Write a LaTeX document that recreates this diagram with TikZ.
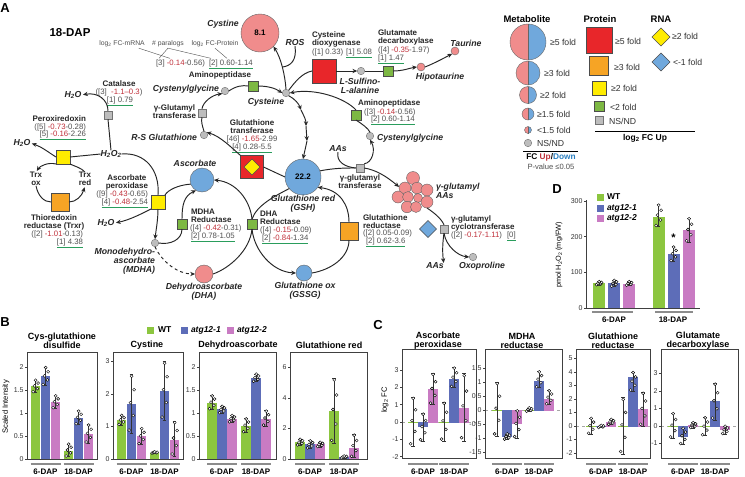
\documentclass[tikz,border=0pt]{standalone}
\usepackage{fontspec}
\setmainfont{Liberation Sans}
\usetikzlibrary{arrows.meta,shapes.geometric}
\definecolor{mpink}{HTML}{F08C8C}
\definecolor{mblue}{HTML}{70A8DC}
\definecolor{pred}{HTML}{E8262A}
\definecolor{porange}{HTML}{F6A425}
\definecolor{pyellow}{HTML}{FFEC00}
\definecolor{pgreen}{HTML}{7DB843}
\definecolor{pgray}{HTML}{BDBDBD}
\definecolor{vred}{HTML}{C0303A}
\definecolor{dblue}{HTML}{2A7FC1}
\definecolor{vgray}{HTML}{505050}
\definecolor{ulgreen}{HTML}{2A9D5C}
\definecolor{cwt}{HTML}{8CC63F}
\definecolor{ca}{HTML}{5D6DB8}
\definecolor{cb}{HTML}{C97BC3}
\newcommand{\rd}[1]{\textcolor{vred}{#1}}
\newcommand{\ulnode}[1]{\draw[ul] ([yshift=-1.8pt]#1.south west) -- ([yshift=-1.8pt]#1.south east);}
\newcommand{\halfc}[3]{%
 \fill[mpink] (#1,#2) -- ++(90:#3pt) arc[start angle=90,end angle=270,radius=#3pt] -- cycle;
 \fill[mblue] (#1,#2) -- ++(-90:#3pt) arc[start angle=-90,end angle=90,radius=#3pt] -- cycle;
 \draw[line width=0.4pt,black!60] (#1,#2) circle[radius=#3pt];
 \draw[line width=0.4pt,black!60] (#1,{#2-#3}) -- (#1,{#2+#3});}
\def\bhw{4.6}
\newcommand{\mybar}[5]{%
 \fill[#5] ({#1-\bhw},0) rectangle ({#1+\bhw},#2);
 \draw[#5,line width=0.7pt] ({#1-\bhw},0) -- ({#1+\bhw},0);
 \draw[errb] (#1,#3) -- (#1,#4) ({#1-1.8},#3) -- ({#1+1.8},#3) ({#1-1.8},#4) -- ({#1+1.8},#4);
 \foreach \jx/\jf in {-2.4/0.05,1.9/0.3,-1.0/0.52,2.6/0.74,0.2/0.97}{\node[dotc] at ({#1+\jx},{(#3)+\jf*((#4)-(#3))}) {};}}
\newcommand{\yticks}[1]{\foreach \v in {#1}{\draw[line width=0.5pt,black!75] (0,\v) -- (-2.2,\v); \node[tickl,anchor=east] at (-3.5,\v) {\v};}}
\newcommand{\grps}[4]{% X0, c1, c2, y
 \begin{scope}[shift={(#1,0)}]
  \draw[grpl] ({#2-15},#4) -- ({#2+15},#4);
  \draw[grpl] ({#3-15},#4) -- ({#3+15},#4);
  \node[grpt] at (#2,{#4+7.5}) {6-DAP};
  \node[grpt] at (#3,{#4+7.5}) {18-DAP};
 \end{scope}}
\begin{document}
\begin{tikzpicture}[x=1pt,y=-1pt,
 every node/.style={inner sep=0pt,outer sep=0pt},
 lab/.style={font=\fontsize{8}{8}\selectfont\bfseries, align=center, text=black!85},
 val/.style={font=\fontsize{7.8}{8}\selectfont, text=vgray},
 met/.style={font=\fontsize{8.7}{8.8}\selectfont\bfseries\itshape, align=center, text=black!85},
 gc/.style={circle, draw=black!55, fill=pgray, minimum size=7.5pt, line width=0.4pt},
 gsq/.style={rectangle, draw=black!55, fill=pgray, minimum size=8.5pt, line width=0.4pt},
 psq/.style={rectangle, draw=black!70, line width=0.4pt},
 mc/.style={circle, draw=black!60, line width=0.4pt},
 ln/.style={line width=0.95pt, black!85},
 arr/.style={line width=0.95pt, black!85, -{Stealth[length=4.8pt,width=4.3pt]}},
 totxt/.style={shorten >=1.5pt},
 ul/.style={draw=ulgreen, line width=0.9pt},
 leg/.style={font=\fontsize{8.7}{8}\selectfont, text=black!80},
 legt/.style={font=\fontsize{9.5}{9}\selectfont\bfseries},
 tickl/.style={font=\fontsize{7}{7}\selectfont, text=black!80},
 ttl/.style={font=\fontsize{9}{9.2}\selectfont\bfseries, align=center},
 grpl/.style={line width=1.1pt, black!45},
 grpt/.style={font=\fontsize{8}{8}\selectfont\bfseries},
 dotc/.style={circle, draw=black, fill=white, minimum size=3pt, line width=0.4pt},
 pfrm/.style={line width=0.6pt, black!75},
 errb/.style={line width=0.5pt, black!80},
 panl/.style={font=\fontsize{13}{13}\selectfont\bfseries},
 hdr/.style={font=\fontsize{6.8}{8}\selectfont, text=vgray},
]
\useasboundingbox (0,0) rectangle (745,477);
\fill[white] (0,0) rectangle (745,477);

% ================= Panel A =================
\node[panl] (pA) at (5,8) {A};
\node[font=\fontsize{11.5}{11}\selectfont\bfseries] (dap) at (70,33) {18-DAP};
\node[hdr] (hm) at (122,44) {log\textsubscript{2} FC-mRNA};
\node[hdr] (hp) at (168,44) {\# paralogs};
\node[hdr] (hf) at (215,44) {log\textsubscript{2} FC-Protein};
\node[val, anchor=west] (v0a) at (156,63) {[3] \rd{-0.14}-0.56)};
\node[val, anchor=west] (v0b) at (209,63) {[2] 0.60-1.14};
\ulnode{v0b}
\draw[line width=0.4pt, vgray] ([xshift=-6pt,yshift=-1pt]hm.south east) -- ([xshift=14pt,yshift=1pt]v0a.north west);
\draw[line width=0.4pt, vgray] ([xshift=3pt,yshift=1pt]v0a.north west) -- ([yshift=-1pt]hp.south) -- ([xshift=2pt,yshift=1pt]v0b.north west);
\draw[line width=0.4pt, vgray] ([yshift=-1pt]hf.south) -- ([xshift=18pt,yshift=1pt]v0b.north west);

% Cystine / ROS / Cysteine
\node[mc, fill=mpink, minimum size=38pt, font=\fontsize{8}{8}\selectfont\bfseries] (cystine) at (260,33) {8.1};
\node[met] (lcystine) at (223,24) {Cystine};
\node[met] (ros) at (295,43) {ROS};
\node[gc] (cys) at (286,93) {};
\node[met] (lcys) at (266,102) {Cysteine};
\coordinate (rosj) at (282.5,67);

% left loop
\node[lab] (lap1) at (220,75) {Aminopeptidase};
\node[psq, fill=pgreen, minimum size=10pt] (ap1) at (253,86) {};
\node[gc] (cgl) at (225,91) {};
\node[met, anchor=east] (lcgl) at (219,89) {Cystenylglycine};
\node[gsq] (ggt1) at (202,113) {};
\node[lab, anchor=east] (lggt1) at (196,112) {γ-Glutamyl\\transferase};
\node[gc] (rs) at (204,135) {};
\node[met, anchor=east] (lrs) at (197,137) {R-S Glutathione};

% GST and GSH
\node[psq, fill=pred, minimum size=23pt] (gst) at (252,167) {};
\node[diamond, draw=black!70, fill=pyellow, minimum size=16pt, line width=0.4pt] (gstr) at (252,167) {};
\node[lab] (lgst) at (252,127) {Glutathione\\transferase};
\node[val] (vgst1) at (252,139) {[46] \rd{-1.65}-2.99};
\node[val] (vgst2) at (252,147) {[4] 0.28-5.5};
\ulnode{vgst2}
\node[mc, fill=mblue, minimum size=36pt, font=\fontsize{8}{8}\selectfont\bfseries] (gsh) at (303,177) {22.2};
\node[met] (lgsh) at (303,204) {Glutathione red\\(GSH)};
\coordinate (s1) at (301,110);
\coordinate (s2) at (306,126);
\coordinate (s3) at (307,141);

% CDO branch
\node[psq, fill=pred, minimum size=24pt] (cdo) at (324,71) {};
\node[lab, anchor=west, align=left] (lcdo) at (312,39) {Cysteine\\dioxygenase};
\node[val, anchor=west] (vcdo1) at (312,52) {([1] 0.33)};
\node[val, anchor=west] (vcdo2) at (346,52) {[1] 5.08};
\ulnode{vcdo2}
\node[gc] (sulf) at (361,71) {};
\node[met] (lsulf) at (360,86) {L-Sulfino-\\L-alanine};
\node[psq, fill=pgreen, minimum size=10pt] (gad) at (388,71) {};
\node[lab, anchor=west, align=left] (lgad) at (378,37.5) {Glutamate\\decarboxylase};
\node[val, anchor=west] (vgad1) at (378,50) {([4] \rd{-0.35}-1.97)};
\node[val, anchor=west] (vgad2) at (378,58) {[1] 1.47};
\ulnode{vgad2}
\node[mc, fill=mpink, minimum size=8pt] (hipo) at (421,67) {};
\node[met] (lhipo) at (440,77) {Hipotaurine};
\node[mc, fill=mpink, minimum size=8pt] (tau) at (455,51) {};
\node[met] (ltau) at (466,43) {Taurine};

% right loop
\node[psq, fill=pgreen, minimum size=10pt] (ap2) at (356,115) {};
\node[lab, anchor=west] (lap2) at (358,103) {Aminopeptidase};
\node[val, anchor=west] (vap2a) at (364,112) {([3] \rd{-0.14}-0.56)};
\node[val, anchor=west] (vap2b) at (371,119.5) {[2] 0.60-1.14};
\ulnode{vap2b}
\node[gc] (cgr) at (370,136) {};
\node[met, anchor=west] (lcgr) at (377,138) {Cystenylglycine};
\node[gsq] (ggt2) at (360,168) {};
\node[lab] (lggt2) at (360,182) {γ-glutamyl\\transferase};
\node[met] (aas1) at (338,149) {AAs};

% gamma-glutamyl AAs cluster
\foreach \n/\x/\y/\s in {1/413/178/13, 2/405/188/12, 3/417/188/11.5, 4/427/190/12, 5/398/197/12, 6/408/197/11, 7/418/198/9, 8/427/202/12, 9/407/207/11.5, 10/416/207/11}{\node[mc, fill=mpink, minimum size=\s pt] (cl\n) at (\x,\y) {};}
\node[met, anchor=west, align=left] (lgaa) at (436,191) {γ-glutamyl\\AAs};
\node[gsq] (ggct) at (444,229) {};
\node[diamond, draw=black!70, fill=mblue, minimum size=17pt, line width=0.4pt] (ggctr) at (428,229) {};
\node[lab, anchor=west, align=left] (lggct) at (451,223) {γ-glutamyl\\cyclotransferase};
\node[val, anchor=west] (vggct) at (451,235) {([2] \rd{-0.17-1.11})};
\node[val, anchor=west] (vggct2) at (507,235) {[0]};
\ulnode{vggct2}
\node[met] (aas2) at (435,266) {AAs};
\node[gc] (oxo) at (473,257) {};
\node[met] (loxo) at (482,266) {Oxoproline};

% GR, GSSG, DHAR
\node[psq, fill=porange, minimum size=18pt] (gr) at (349,231) {};
\node[lab, anchor=west, align=left] (lgr) at (363,222) {Glutathione\\reductase};
\node[val, anchor=west] (vgr1) at (363,233.5) {([2] 0.05-0.09)};
\node[val, anchor=west] (vgr2) at (366,241.5) {[2] 0.62-3.6};
\ulnode{vgr2}
\node[mc, fill=mblue, minimum size=16pt] (gssg) at (304,273) {};
\node[met] (lgssg) at (305,291) {Glutathione ox\\(GSSG)};
\node[psq, fill=pgreen, minimum size=10pt] (dhar) at (252,224) {};
\node[lab, anchor=west, align=left] (ldhar) at (260,218) {DHA\\Reductase};
\node[val, anchor=west] (vdhar1) at (260,230) {([4] \rd{-0.15}-0.09)};
\node[val, anchor=west] (vdhar2) at (262,238) {[2] \rd{-0.84}-1.34};
\ulnode{vdhar2}

% ascorbate cycle
\node[mc, fill=mblue, minimum size=24pt] (asc) at (202,180) {};
\node[met] (lasc) at (195,163) {Ascorbate};
\node[psq, fill=pgreen, minimum size=10pt] (mdhar) at (182,224) {};
\node[lab, anchor=west, align=left] (lmdhar) at (191,216) {MDHA\\Reductase};
\node[val, anchor=west] (vmd1) at (190,228) {([4] \rd{-0.42}-0.31)};
\node[val, anchor=west] (vmd2) at (191,236) {[2] 0.78-1.05};
\ulnode{vmd2}
\node[gc] (mdha) at (155,243) {};
\node[met, anchor=east, align=right] (lmdha) at (155,261) {Monodehydro-\\ascorbate\\(MDHA)};
\node[mc, fill=mpink, minimum size=18pt] (dha) at (204,274) {};
\node[met] (ldha) at (204,292) {Dehydroascorbate\\(DHA)};
\node[psq, fill=pyellow, minimum size=14pt] (apx) at (158,202) {};
\node[lab, anchor=east] (lapx) at (148,182) {Ascorbate\\peroxidase};
\node[val, anchor=east] (vapx1) at (148,194) {([9] \rd{-0.43}-0.65)};
\node[val, anchor=east] (vapx2) at (148,202) {[4] \rd{-0.48}-2.54};
\ulnode{vapx2}
\node[met] (h2o3) at (106,223) {H\textsubscript{2}O};

% H2O2 branch
\node[met] (h2o2) at (111,154) {H\textsubscript{2}O\textsubscript{2}};
\node[gsq] (cat) at (108,115) {};
\node[lab] (lcat) at (119,84) {Catalase};
\node[val] (vcat1) at (119,92) {([3]\ \ \rd{-1.1--0.3})};
\node[val] (vcat2) at (120,100) {[1] 0.79};
\ulnode{vcat2}
\node[met] (h2o1) at (73,95) {H\textsubscript{2}O};
\node[psq, fill=pyellow, minimum size=14pt] (prx) at (63,157) {};
\node[lab, anchor=east] (lprx) at (86,119) {Peroxiredoxin};
\node[val, anchor=east] (vprx1) at (86,127) {([5] \rd{-0.73}-0.28)};
\node[val, anchor=east] (vprx2) at (86,134) {[5] \rd{-0.16}-2.26};
\ulnode{vprx2}
\node[met] (h2o0) at (22,143) {H\textsubscript{2}O};
\node[lab] (trxo) at (36,179) {Trx\\ox};
\node[lab] (trxr) at (85,179) {Trx\\red};
\node[psq, fill=porange, minimum size=18pt] (trxrd) at (60,202) {};
\node[lab] (ltrxr) at (54,222) {Thioredoxin\\reductase (Trxr)};
\node[val, anchor=east] (vtr1) at (83,234) {([2] \rd{-1.01}-0.13)};
\node[val, anchor=east] (vtr2) at (83,242) {[1] 4.38};
\ulnode{vtr2}

% ---- connectors ----
\draw[ln] (cgl.east) .. controls (236,86) and (243,85) .. (ap1.west);
\draw[arr] (ap1.east) .. controls (267,86) and (275,88) .. (cys.west);
\draw[ln] (rs.north) .. controls (202,125) and (201,121) .. (ggt1.south);
\draw[arr] (ggt1.north) .. controls (203,102) and (212,95) .. (cgl.south west);
\draw[arr] (gst.north west) .. controls (232,148) and (220,136) .. (rs.north east);
\draw[ln] (gst.east) -- (gsh.west);
\draw[arr] (cys.south east) .. controls (295,99) and (299,104) .. (s1);
\draw[arr] (s1) .. controls (304,116) and (306,120) .. (s2);
\draw[arr] (s2) -- (s3);
\draw[arr] (s3) -- (gsh.north);
\draw[arr] (cys.north) .. controls (285,75) and (281,58) .. (cystine.-45);
\draw[ln] (ros.south) .. controls (297,60) and (291,66) .. (rosj);
\draw[ln] (cys.north east) .. controls (295,82) and (302,73) .. (cdo.west);
\draw[arr] (cdo.east) -- (sulf.west);
\draw[ln] (sulf.east) -- (gad.west);
\draw[arr] (gad.east) .. controls (403,71) and (410,68) .. (hipo.west);
\draw[arr] (hipo.east) .. controls (435,63) and (444,58) .. (tau.south west);
\draw[arr] (ap2.north) .. controls (345,98) and (315,88) .. (cys.east);
\draw[ln] (cgr.north) .. controls (368,128) and (362,124) .. (ap2.south);
\draw[arr] (ggt2.north east) .. controls (372,163) and (376,150) .. (cgr.south);
\draw[ln] (aas1.south) .. controls (336,162) and (345,167) .. (ggt2.west);
\draw[ln] (gsh.20) .. controls (335,168) and (345,168) .. (ggt2.west);
\draw[arr] (ggt2.east) .. controls (376,170) and (386,176) .. (cl2.170);
\draw[ln] (cl8.south) .. controls (433,212) and (441,218) .. (ggct.north);
\draw[arr] (ggct.south) .. controls (443,240) and (442,250) .. (aas2.north east);
\draw[arr] (ggct.south) .. controls (446,246) and (458,256) .. (oxo.west);
\draw[ln] (gssg.east) .. controls (330,270) and (349,258) .. (gr.south);
\draw[arr] (gr.north) .. controls (349,205) and (340,190) .. (gsh.-35);
\draw[ln] (gsh.220) .. controls (275,196) and (257,205) .. (dhar.north);
\draw[arr] (dhar.south) .. controls (254,250) and (272,272) .. (gssg.west);
\draw[ln] (dha.east) .. controls (230,268) and (250,250) .. (dhar.south);
\draw[arr] (dhar.north) .. controls (250,200) and (236,182) .. (asc.east);
\draw[ln] (asc.200) .. controls (178,185) and (168,190) .. (apx.north east);
\draw[ln] (h2o2.east) .. controls (145,152) and (160,170) .. (apx.north);
\draw[arr, totxt] (apx.south west) .. controls (145,212) and (130,220) .. (h2o3.east);
\draw[arr] (apx.south) .. controls (158,220) and (156,230) .. (mdha.north);
\draw[ln] (mdha.east) .. controls (170,245) and (182,240) .. (mdhar.south);
\draw[arr] (mdhar.north) .. controls (182,205) and (184,196) .. (asc.240);
\draw[arr, dashed] (mdha.south) .. controls (162,262) and (178,274) .. (dha.west);
\draw[ln] (h2o2.north) -- (cat.south);
\draw[arr, totxt] (cat.north) .. controls (108,100) and (98,92) .. (h2o1.east);
\draw[ln] (h2o2.west) -- (prx.east);
\draw[arr, totxt] (prx.west) .. controls (48,152) and (42,147) .. (h2o0.east);
\draw[arr, totxt] (prx.south west) .. controls (48,162) and (40,166) .. (trxo.north);
\draw[ln] (trxr.north) .. controls (82,168) and (74,166) .. (prx.south east);
\draw[ln] (trxo.south) .. controls (38,196) and (44,202) .. (trxrd.west);
\draw[arr, totxt] (trxrd.east) .. controls (76,202) and (82,196) .. (trxr.south);

% ---- legend ----
\node[legt] (lgm) at (527,19) {Metabolite};
\halfc{528}{42}{18}
\halfc{528}{73}{12}
\halfc{528}{95}{8.5}
\halfc{528}{114}{6}
\halfc{528}{130}{3.5}
\node[gc] (lgns) at (528,143) {};
\node[leg, anchor=west] (lm1) at (550,42) {≥5 fold};
\node[leg, anchor=west] (lm2) at (544,73) {≥3 fold};
\node[leg, anchor=west] (lm3) at (540,95) {≥2 fold};
\node[leg, anchor=west] (lm4) at (537,114) {≥1.5 fold};
\node[leg, anchor=west] (lm5) at (537,130) {<1.5 fold};
\node[leg, anchor=west] (lm6) at (537,143) {NS/ND};
\draw[line width=0.6pt] (523,151) -- (578,151);
\node[font=\fontsize{8.3}{8}\selectfont\bfseries] (fcud) at (551,157.5) {FC \textcolor{vred}{Up}/\textcolor{dblue}{Down}};
\node[font=\fontsize{7.6}{8}\selectfont, text=vgray] (pval) at (551,167) {P-value ≤0.05};
\node[legt] (lgp) at (600,19) {Protein};
\node[psq, fill=pred, minimum size=26pt] (lp1) at (599,40) {};
\node[psq, fill=porange, minimum size=19pt] (lp2) at (599,66) {};
\node[psq, fill=pyellow, minimum size=14pt] (lp3) at (599,88) {};
\node[psq, fill=pgreen, minimum size=10pt] (lp4) at (599,106) {};
\node[gsq] (lp5) at (599,120) {};
\node[leg, anchor=west] (lpt1) at (615,41) {≥5 fold};
\node[leg, anchor=west] (lpt2) at (614,67) {≥3 fold};
\node[leg, anchor=west] (lpt3) at (611,88) {≥2 fold};
\node[leg, anchor=west] (lpt4) at (610,107) {<2 fold};
\node[leg, anchor=west] (lpt5) at (609,121) {NS/ND};
\draw[line width=0.6pt] (595,131) -- (695,131);
\node[font=\fontsize{8.5}{8}\selectfont\bfseries] (lfc) at (645,138) {log\textsubscript{2} FC Up};
\node[legt] (lgr) at (661,19) {RNA};
\node[diamond, draw=black!70, fill=pyellow, minimum size=18pt, line width=0.4pt] (lr1) at (661,37) {};
\node[diamond, draw=black!70, fill=mblue, minimum size=18pt, line width=0.4pt] (lr2) at (661,62) {};
\node[leg, anchor=west] (lrt1) at (672,36) {≥2 fold};
\node[leg, anchor=west] (lrt2) at (673,62) {<-1 fold};

% ================= Panel D =================
\node[panl] (pD) at (557,189) {D};
\begin{scope}[shift={(586,308)}, yscale=-0.357]
 \def\bhw{6}
 \mybar{13}{69}{65}{74}{cwt} \mybar{28}{69}{60}{78}{ca} \mybar{43}{68}{63}{74}{cb}
 \mybar{72.5}{256}{228}{290}{cwt} \mybar{87.5}{151}{131}{172}{ca} \mybar{103}{218}{185}{252}{cb}
 \draw[pfrm] (0,302) -- (0,0) -- (114,0);
 \yticks{0,100,200,300}
 \node[font=\fontsize{11}{11}\selectfont\bfseries] (star) at (87.5,196) {*};
\end{scope}
\node[rectangle, fill=cwt, minimum size=7pt] (dl1) at (600,197) {};
\node[rectangle, fill=ca, minimum size=7pt] (dl2) at (600,208) {};
\node[rectangle, fill=cb, minimum size=7pt] (dl3) at (600,218) {};
\node[font=\fontsize{8.5}{8}\selectfont\bfseries, anchor=west] (dlt1) at (607,197) {WT};
\node[font=\fontsize{8.5}{8}\selectfont\bfseries\itshape, anchor=west] (dlt2) at (607,208) {atg12-1};
\node[font=\fontsize{8.5}{8}\selectfont\bfseries\itshape, anchor=west] (dlt3) at (607,218) {atg12-2};
\node[rotate=90, font=\fontsize{7.3}{7}\selectfont] (dyl) at (559,255) {pmol H\textsubscript{2}O\textsubscript{2} (mg/FW)};
\draw[grpl] (592,312) -- (633,312);
\draw[grpl] (655,312) -- (693,312);
\node[grpt] (dg1) at (614,320) {6-DAP};
\node[grpt] (dg2) at (673,320) {18-DAP};

% ================= Panel B =================
\node[panl] (pB) at (5,322) {B};
\node[rectangle, fill=cwt, minimum size=7pt] (bl1) at (150,330) {};
\node[rectangle, fill=ca, minimum size=7pt] (bl2) at (184,330) {};
\node[rectangle, fill=cb, minimum size=7pt] (bl3) at (230,330) {};
\node[font=\fontsize{8.5}{8}\selectfont\bfseries, anchor=west] (blt1) at (158,330) {WT};
\node[font=\fontsize{8.5}{8}\selectfont\bfseries\itshape, anchor=west] (blt2) at (191,330) {atg12-1};
\node[font=\fontsize{8.5}{8}\selectfont\bfseries\itshape, anchor=west] (blt3) at (237,330) {atg12-2};
\node[rotate=90, font=\fontsize{7.6}{7}\selectfont] (byl) at (6,407) {Scaled Intensity};
\node[ttl] (bt1) at (62,341) {Cys-glutathione\\disulfide};
\node[ttl] (bt2) at (147,345) {Cystine};
\node[ttl] (bt3) at (238,345) {Dehydroascorbate};
\node[ttl] (bt4) at (329,345) {Glutathione red};
\begin{scope}[shift={(27,459)}, yscale=-46]
 \mybar{8.5}{1.58}{1.45}{1.72}{cwt} \mybar{18.5}{1.8}{1.6}{2.0}{ca} \mybar{28.5}{1.24}{1.1}{1.38}{cb}
 \mybar{41.5}{0.18}{0.05}{0.33}{cwt} \mybar{51.5}{0.9}{0.75}{1.05}{ca} \mybar{61.5}{0.55}{0.35}{0.75}{cb}
 \draw[pfrm] (0,0) rectangle (70,2.33);
 \yticks{0,0.5,1,1.5,2}
\end{scope}
\grps{27}{18.5}{51.5}{464}
\begin{scope}[shift={(113,459)}, yscale=-32.5]
 \mybar{8.5}{1.2}{1.05}{1.35}{cwt} \mybar{18.5}{1.7}{0.8}{2.6}{ca} \mybar{28.5}{0.7}{0.45}{0.95}{cb}
 \mybar{41.5}{0.2}{0.18}{0.22}{cwt} \mybar{51.5}{2.1}{1.2}{3.0}{ca} \mybar{61.5}{0.6}{0.1}{1.15}{cb}
 \draw[pfrm] (0,0) rectangle (70,3.29);
 \yticks{0,1,2,3}
\end{scope}
\grps{113}{18.5}{51.5}{464}
\begin{scope}[shift={(199,459)}, yscale=-46]
 \mybar{13}{1.22}{1.08}{1.38}{cwt} \mybar{23}{1.08}{1.0}{1.15}{ca} \mybar{33}{0.88}{0.8}{0.95}{cb}
 \mybar{47}{0.72}{0.58}{0.88}{cwt} \mybar{57}{1.76}{1.68}{1.85}{ca} \mybar{67}{0.88}{0.72}{1.05}{cb}
 \draw[pfrm] (0,0) rectangle (77,2.33);
 \yticks{0,0.5,1,1.5,2}
\end{scope}
\grps{199}{23}{57}{464}
\begin{scope}[shift={(290,459)}, yscale=-15.3]
 \mybar{10}{1.1}{0.9}{1.3}{cwt} \mybar{20}{1.0}{0.7}{1.2}{ca} \mybar{30}{0.95}{0.8}{1.1}{cb}
 \mybar{44}{3.15}{1.0}{5.3}{cwt} \mybar{54}{0.15}{0.08}{0.2}{ca} \mybar{64}{0.75}{0.1}{1.6}{cb}
 \draw[pfrm] (0,0) rectangle (77,7.0);
 \yticks{0,2,4,6}
\end{scope}
\grps{290}{20}{54}{464}

% ================= Panel C =================
\node[panl] (pC) at (378,325) {C};
\node[rotate=90, font=\fontsize{7.6}{7}\selectfont] (cyl) at (385,400) {log\textsubscript{2} FC};
\node[ttl] (ct1) at (438,341) {Ascorbate\\peroxidase};
\node[ttl] (ct2) at (522,341) {MDHA\\reductase};
\node[ttl] (ct3) at (613,341) {Glutathione\\reductase};
\node[ttl] (ct4) at (698,341) {Glutamate\\decarboxylase};
\begin{scope}[shift={(402,422)}, yscale=-17.3]
 \draw[dashed, black!35, line width=0.5pt] (0,0) -- (74,0);
 \mybar{11}{0}{-1.4}{1.45}{cwt} \mybar{21}{-0.3}{-1.1}{0.5}{ca} \mybar{31}{1.9}{1.0}{2.8}{cb}
 \mybar{42}{0}{-1.1}{1.15}{cwt} \mybar{52}{2.5}{2.0}{3.15}{ca} \mybar{62}{0.8}{-1.1}{2.8}{cb}
 \draw[pfrm] (0,-2.08) rectangle (74,4.22);
 \yticks{-2,-1,0,1,2,3}
\end{scope}
\grps{402}{21}{52}{464}
\begin{scope}[shift={(485,410)}, yscale=-28]
 \draw[dashed, black!35, line width=0.5pt] (0,0) -- (77,0);
 \mybar{12}{0}{-0.95}{1.0}{cwt} \mybar{22}{-0.95}{-1.05}{-0.85}{ca} \mybar{32}{-0.5}{-1.0}{0.0}{cb}
 \mybar{44}{0}{-0.05}{0.08}{cwt} \mybar{54}{1.05}{0.8}{1.38}{ca} \mybar{64}{0.4}{0.2}{0.7}{cb}
 \draw[pfrm] (0,-1.71) rectangle (77,2.18);
 \yticks{-1.5,-1,-0.5,0,0.5,1,1.5}
\end{scope}
\grps{485}{22}{54}{464}
\begin{scope}[shift={(576,426)}, yscale=-13.5]
 \draw[dashed, black!35, line width=0.5pt] (0,0) -- (74,0);
 \mybar{15}{0}{-0.6}{0.6}{cwt} \mybar{25}{-0.05}{-0.12}{0.05}{ca} \mybar{35}{0.3}{0.1}{0.5}{cb}
 \mybar{47}{0}{-2.1}{2.1}{cwt} \mybar{57}{3.6}{2.6}{4.0}{ca} \mybar{67}{1.25}{0}{2.5}{cb}
 \draw[pfrm] (0,-2.37) rectangle (74,5.7);
 \yticks{-2,-1,0,1,2,3,4,5}
\end{scope}
\grps{576}{25}{57}{464}
\begin{scope}[shift={(661,426)}, yscale=-17.5]
 \draw[dashed, black!35, line width=0.5pt] (0,0) -- (77,0);
 \mybar{12}{0}{-0.7}{0.75}{cwt} \mybar{22}{-0.6}{-1.05}{-0.1}{ca} \mybar{32}{0.05}{-0.1}{0.2}{cb}
 \mybar{44}{0}{-0.55}{0.5}{cwt} \mybar{54}{1.45}{0.35}{2.45}{ca} \mybar{64}{-0.25}{-0.45}{0}{cb}
 \draw[pfrm] (0,-1.83) rectangle (77,4.4);
 \yticks{-1,0,1,2,3}
\end{scope}
\grps{661}{22}{54}{464}
\end{tikzpicture}
\end{document}
